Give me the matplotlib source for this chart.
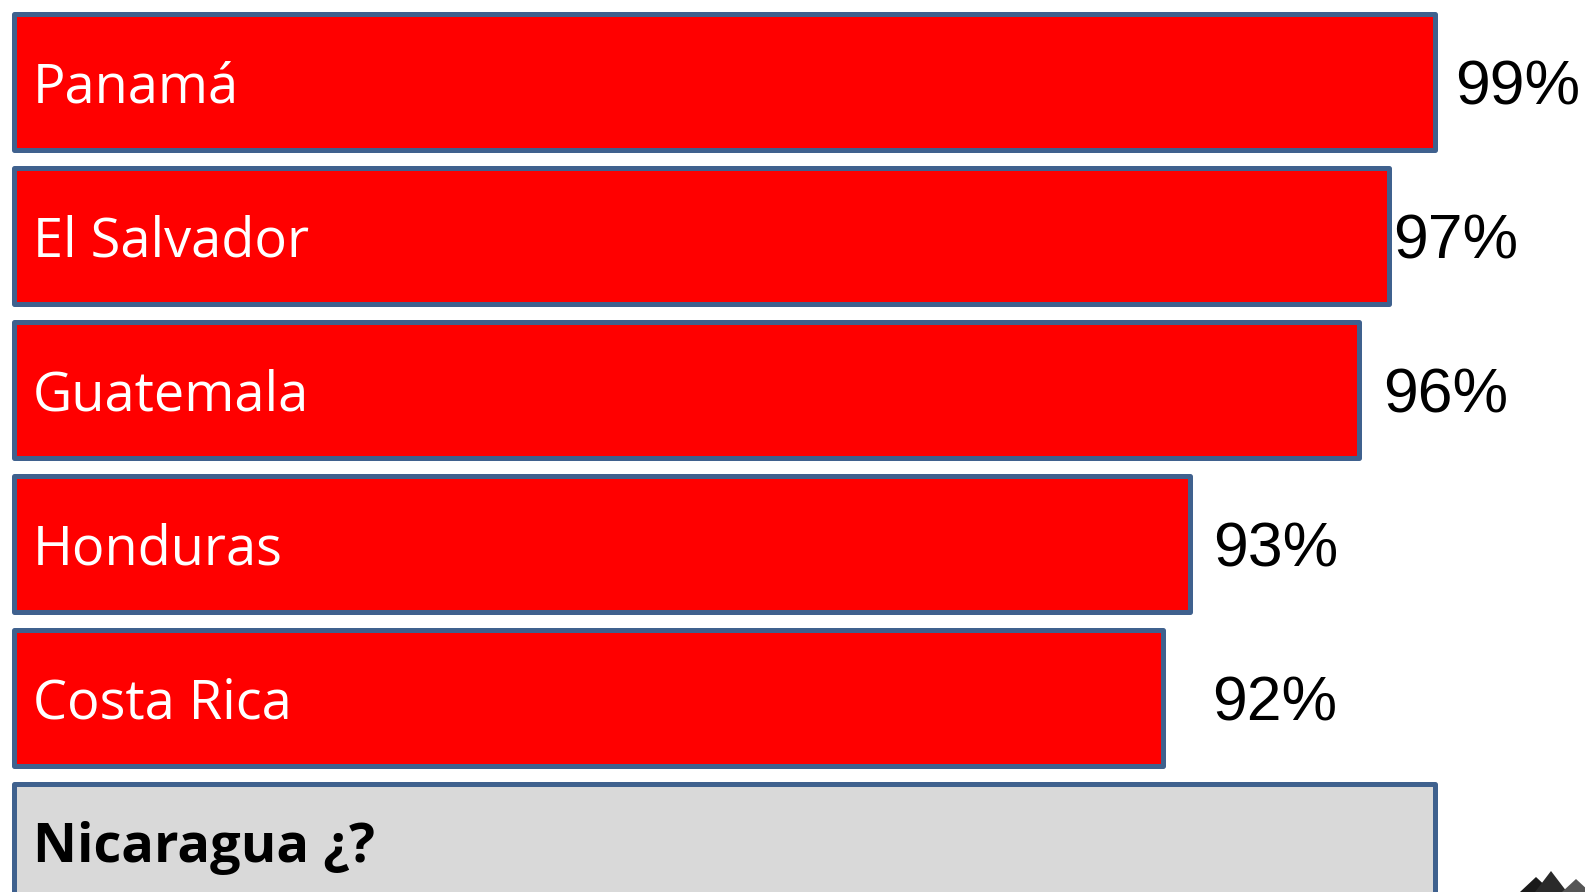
import matplotlib
matplotlib.use("Agg")
import matplotlib.pyplot as plt
from matplotlib.patches import Polygon

# ---- data ----
countries = ["Panamá", "El Salvador", "Guatemala", "Honduras", "Costa Rica", "Nicaragua ¿?"]
bar_lengths = [100.0, 96.8, 94.7, 82.8, 80.9, 100.0]   # relative drawn length of each bar
pct_labels = ["99%", "97%", "96%", "93%", "92%", None]

# ---- style / layout ----
W, H, DPI = 1585, 892, 100
fill_colors = ["#FF0000"] * 5 + ["#D9D9D9"]
edge_color = "#3F618E"
pct_gap_px = [18, 2, 21, 20, 46]

fig = plt.figure(figsize=(W / DPI, H / DPI), dpi=DPI)
ax = fig.add_axes([0, 0, 1, 1])
ax.set_axis_off()

px_per_unit_x = (1434.5 - 14.5) / 100.0
ax.set_xlim(-14.5 / px_per_unit_x, (W - 14.5) / px_per_unit_x)
pitch = 154.0
ax.set_ylim((H - 81.5) / pitch, -81.5 / pitch)

ypos = list(range(len(countries)))
bars = ax.barh(ypos, bar_lengths, height=136 / pitch, color=fill_colors,
               edgecolor=edge_color, linewidth=3.6, left=0)
for b in bars:
    b.set_joinstyle("round")
    b.set_clip_on(False)

label_font = ["Open Sans", "DejaVu Sans"]
for i, (name, y) in enumerate(zip(countries, ypos)):
    if i < 5:
        ax.text(1.3, y + 21 / pitch, name, color="white", fontsize=39,
                family=label_font, va="baseline", ha="left")
    else:
        ax.text(1.3, y + 10.5 / pitch, name, color="black", fontsize=39,
                family=label_font, fontweight="bold", va="baseline", ha="left")

for i, lab in enumerate(pct_labels):
    if lab is None:
        continue
    x = bar_lengths[i] + (2.5 + pct_gap_px[i]) / px_per_unit_x
    ax.text(x, ypos[i] + 23 / pitch, lab, color="black", fontsize=45,
            family="Liberation Sans", va="baseline", ha="left")

# small decorative logo in bottom-right corner
def px(xp, yp):
    return (xp / W, 1 - yp / H)

for tri, col in [([(1520, 892), (1536, 877), (1552, 892)], "#1a1a1a"),
                 ([(1535, 892), (1551, 871), (1567, 892)], "#2a2a2a"),
                 ([(1562, 892), (1576, 879), (1590, 892)], "#555555")]:
    fig.patches.append(Polygon([px(*p) for p in tri], closed=True,
                               transform=fig.transFigure, facecolor=col,
                               edgecolor="none"))

fig.savefig("out.png", dpi=DPI, facecolor="white")
